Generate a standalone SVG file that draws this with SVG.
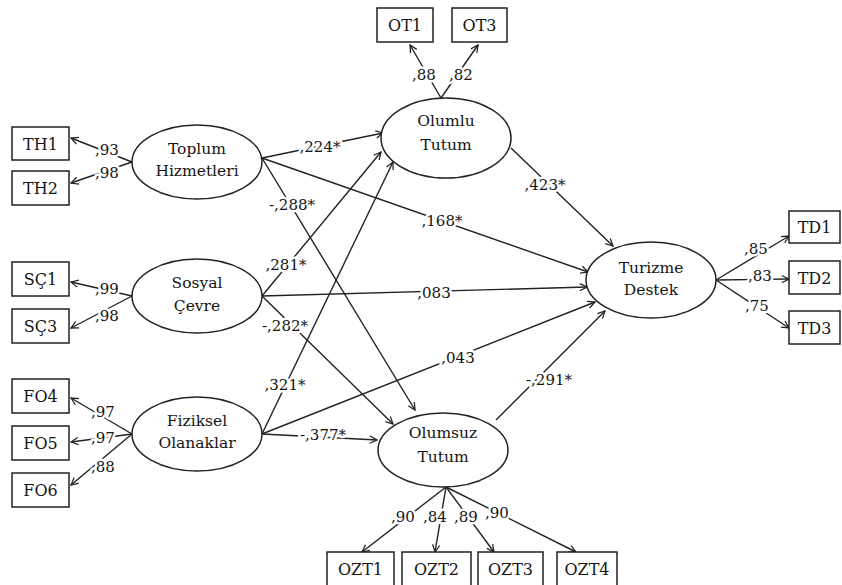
<svg xmlns="http://www.w3.org/2000/svg" width="842" height="585" viewBox="0 0 842 585">
<defs>
<marker id="ah" viewBox="0 0 10 10" refX="9" refY="5" markerWidth="9" markerHeight="9" markerUnits="userSpaceOnUse" orient="auto">
<path d="M1,1 L9,5 L1,9" fill="none" stroke="#222" stroke-width="1.4"/>
</marker>
<style>
.box{fill:#fff;stroke:#222;stroke-width:1.5}
.ell{fill:#fff;stroke:#222;stroke-width:1.5}
.t{font-family:"DejaVu Serif","Liberation Serif",serif;font-size:16px;fill:#141414;text-anchor:middle}
.n{font-family:"DejaVu Serif","Liberation Serif",serif;font-size:15.5px;fill:#141414;text-anchor:middle}
.c line{stroke:#222;stroke-width:1.4;fill:none;marker-end:url(#ah)}
.l{font-family:"DejaVu Serif","Liberation Serif",serif;font-size:15px;fill:#141414;text-anchor:middle;stroke:#fff;stroke-width:5;paint-order:stroke;stroke-linejoin:round}
</style>
</defs>
<rect width="842" height="585" fill="#fff"/>
<g id="connectors" class="c">
<line x1="132" y1="162" x2="71" y2="138"/>
<line x1="132" y1="162" x2="71" y2="183"/>
<line x1="132" y1="296" x2="71" y2="282"/>
<line x1="132" y1="296" x2="71" y2="328"/>
<line x1="132" y1="434" x2="71" y2="398"/>
<line x1="132" y1="434" x2="71" y2="442"/>
<line x1="132" y1="434" x2="71" y2="485"/>
<line x1="441" y1="98" x2="410" y2="45"/>
<line x1="441" y1="98" x2="478" y2="45"/>
<line x1="716" y1="280" x2="789" y2="236"/>
<line x1="716" y1="280" x2="789" y2="279"/>
<line x1="716" y1="280" x2="789" y2="328"/>
<line x1="446" y1="487" x2="362" y2="552"/>
<line x1="446" y1="487" x2="435" y2="552"/>
<line x1="446" y1="487" x2="494" y2="552"/>
<line x1="446" y1="487" x2="576" y2="552"/>
<line x1="262" y1="158" x2="383" y2="133"/>
<line x1="262" y1="158" x2="588" y2="272"/>
<line x1="262" y1="158" x2="415" y2="410"/>
<line x1="262" y1="296" x2="381" y2="152"/>
<line x1="262" y1="296" x2="587" y2="287"/>
<line x1="262" y1="296" x2="393" y2="424"/>
<line x1="262" y1="434" x2="393" y2="162"/>
<line x1="262" y1="434" x2="595" y2="302"/>
<line x1="262" y1="434" x2="377" y2="440"/>
<line x1="511" y1="148" x2="613" y2="246"/>
<line x1="496" y1="420" x2="605" y2="311"/>
</g>
<g id="labels">
<text class="l" x="107" y="155">,93</text>
<text class="l" x="107" y="178">,98</text>
<text class="l" x="107" y="294">,99</text>
<text class="l" x="107" y="321">,98</text>
<text class="l" x="103" y="417">,97</text>
<text class="l" x="103" y="443">,97</text>
<text class="l" x="103" y="472">,88</text>
<text class="l" x="424" y="80">,88</text>
<text class="l" x="461" y="80">,82</text>
<text class="l" x="756" y="254">,85</text>
<text class="l" x="760" y="281">,83</text>
<text class="l" x="757" y="311">,75</text>
<text class="l" x="403" y="522">,90</text>
<text class="l" x="435" y="522">,84</text>
<text class="l" x="466" y="522">,89</text>
<text class="l" x="497" y="518">,90</text>
<text class="l" x="320" y="152">,224*</text>
<text class="l" x="442" y="226">,168*</text>
<text class="l" x="292" y="210">-,288*</text>
<text class="l" x="286" y="270">,281*</text>
<text class="l" x="434" y="298">,083</text>
<text class="l" x="285" y="331">-,282*</text>
<text class="l" x="285" y="390">,321*</text>
<text class="l" x="458" y="363">,043</text>
<text class="l" x="323" y="440">-,377*</text>
<text class="l" x="545" y="190">,423*</text>
<text class="l" x="549" y="385">-,291*</text>
</g>
<g id="TH1"><rect class="box" x="12" y="127" width="57" height="33"/><text class="t" x="40.5" y="149.5">TH1</text></g>
<g id="TH2"><rect class="box" x="12" y="171" width="57" height="34"/><text class="t" x="40.5" y="193.5">TH2</text></g>
<g id="SC1"><rect class="box" x="12" y="262" width="57" height="34"/><text class="t" x="40.5" y="284.5">SÇ1</text></g>
<g id="SC3"><rect class="box" x="12" y="309" width="57" height="34"/><text class="t" x="40.5" y="331.5">SÇ3</text></g>
<g id="FO4"><rect class="box" x="12" y="379" width="57" height="34"/><text class="t" x="40.5" y="401.5">FO4</text></g>
<g id="FO5"><rect class="box" x="12" y="426" width="57" height="34"/><text class="t" x="40.5" y="448.5">FO5</text></g>
<g id="FO6"><rect class="box" x="12" y="473" width="57" height="34"/><text class="t" x="40.5" y="495.5">FO6</text></g>
<g id="OT1"><rect class="box" x="377" y="8" width="56" height="34"/><text class="t" x="405" y="30.5">OT1</text></g>
<g id="OT3"><rect class="box" x="452" y="8" width="55" height="34"/><text class="t" x="479.5" y="30.5">OT3</text></g>
<g id="TD1"><rect class="box" x="789" y="211" width="51" height="32"/><text class="t" x="814.5" y="232.5">TD1</text></g>
<g id="TD2"><rect class="box" x="789" y="261" width="51" height="33"/><text class="t" x="814.5" y="283.5">TD2</text></g>
<g id="TD3"><rect class="box" x="789" y="311" width="51" height="33"/><text class="t" x="814.5" y="333.5">TD3</text></g>
<g id="OZT1"><rect class="box" x="327" y="552" width="67" height="34"/><text class="t" x="360.5" y="574.5">OZT1</text></g>
<g id="OZT2"><rect class="box" x="402" y="552" width="69" height="34"/><text class="t" x="436.5" y="574.5">OZT2</text></g>
<g id="OZT3"><rect class="box" x="478" y="552" width="65" height="34"/><text class="t" x="510.5" y="574.5">OZT3</text></g>
<g id="OZT4"><rect class="box" x="557" y="552" width="60" height="34"/><text class="t" x="587" y="574.5">OZT4</text></g>
<g id="ToplumHizmetleri"><ellipse class="ell" cx="197" cy="162" rx="65" ry="37"/><text class="n" x="197" y="154">Toplum</text><text class="n" x="197" y="176">Hizmetleri</text></g>
<g id="SosyalCevre"><ellipse class="ell" cx="197" cy="296" rx="65" ry="37"/><text class="n" x="197" y="288">Sosyal</text><text class="n" x="197" y="311">Çevre</text></g>
<g id="FizikselOlanaklar"><ellipse class="ell" cx="197" cy="434" rx="65" ry="37"/><text class="n" x="197" y="426">Fiziksel</text><text class="n" x="197" y="448">Olanaklar</text></g>
<g id="OlumluTutum"><ellipse class="ell" cx="446" cy="138" rx="65" ry="40"/><text class="n" x="446" y="126">Olumlu</text><text class="n" x="446" y="150">Tutum</text></g>
<g id="TurizmeDestek"><ellipse class="ell" cx="651" cy="280" rx="65" ry="38"/><text class="n" x="651" y="273">Turizme</text><text class="n" x="651" y="295">Destek</text></g>
<g id="OlumsuzTutum"><ellipse class="ell" cx="443" cy="450" rx="65" ry="37"/><text class="n" x="443" y="438">Olumsuz</text><text class="n" x="443" y="462">Tutum</text></g>
</svg>
